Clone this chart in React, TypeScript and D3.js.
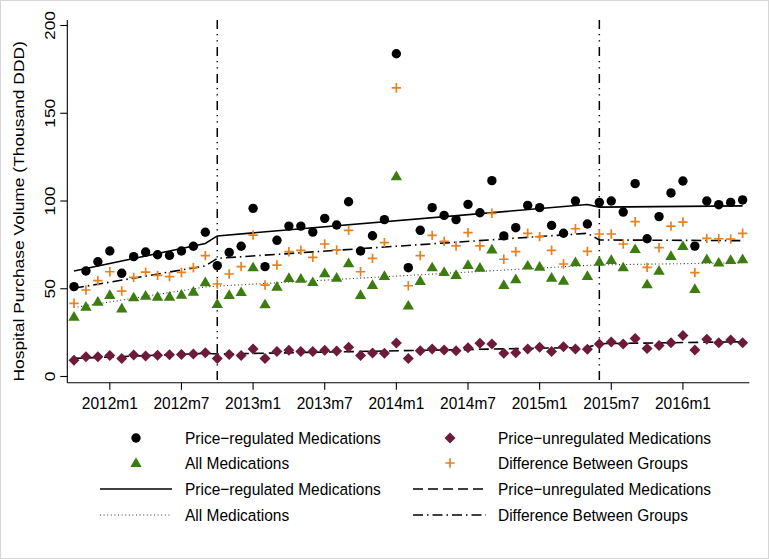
import React from "react";
import * as d3 from "d3";

// month index 0 = 2011m10 ... 56 = 2016m6
const regulated = [51.2, 60.1, 65.4, 71.5, 58.8, 68.3, 70.9, 69.4, 69.0, 71.5, 74.2, 82.2, 63.2, 70.7, 74.2, 95.8, 62.6, 77.6, 85.7, 85.7, 82.3, 90.1, 86.3, 99.6, 71.5, 80.2, 89.4, 183.9, 62.0, 83.3, 96.2, 91.8, 89.4, 98.1, 93.3, 111.6, 80.1, 84.8, 97.5, 96.2, 86.1, 81.6, 100.0, 86.9, 99.2, 100.0, 93.7, 109.9, 78.5, 91.1, 104.6, 111.4, 74.3, 100.0, 97.9, 99.2, 100.6];
const unregulated = [9.2, 11.3, 11.3, 11.9, 10.2, 12.3, 11.7, 12.1, 12.4, 12.6, 12.8, 13.6, 10.2, 12.6, 11.9, 15.7, 10.3, 14.2, 14.9, 14.2, 14.2, 14.9, 14.5, 16.6, 11.9, 13.4, 13.2, 19.1, 10.3, 14.7, 15.7, 15.1, 14.7, 16.4, 18.9, 18.5, 13.2, 13.6, 15.7, 16.6, 14.2, 17.0, 15.7, 15.5, 18.5, 19.7, 18.5, 21.7, 16.0, 17.6, 19.3, 23.3, 15.1, 21.2, 19.3, 20.8, 19.3];
const allMeds = [34.1, 39.8, 42.6, 46.4, 38.8, 45.1, 46.0, 45.5, 45.5, 46.6, 48.3, 53.7, 41.3, 46.4, 48.1, 62.2, 41.1, 51.2, 56.1, 55.7, 53.8, 58.8, 56.3, 64.5, 46.4, 52.1, 57.3, 114.1, 40.4, 54.4, 62.2, 59.5, 57.8, 63.5, 62.0, 72.4, 52.1, 55.4, 63.2, 62.6, 56.3, 54.6, 65.1, 57.3, 65.4, 66.4, 62.2, 72.6, 52.5, 60.3, 68.7, 74.4, 49.9, 66.8, 64.9, 66.4, 66.8];
const difference = [41.7, 49.3, 54.6, 59.7, 48.7, 56.5, 59.5, 57.6, 56.9, 59.3, 62.0, 68.9, 52.7, 58.4, 62.6, 80.6, 52.1, 63.5, 71.1, 71.9, 67.9, 75.5, 72.1, 83.3, 59.7, 67.3, 76.3, 164.5, 51.7, 68.9, 80.4, 77.0, 74.4, 82.0, 74.4, 93.0, 66.8, 71.1, 81.6, 79.7, 71.9, 64.1, 84.2, 71.3, 81.2, 81.2, 75.5, 88.2, 62.2, 73.4, 85.7, 88.0, 59.2, 78.7, 78.5, 78.3, 81.6];

// fitted (segmented) lines: [month index, value]
const regulatedFit: [number, number][] = [[0, 60.1], [11, 75.8], [12, 80.1], [43, 98.0], [44, 96.5], [56, 97.2]];
const unregulatedFit: [number, number][] = [[0, 10.3], [11, 13.2], [12, 12.8], [43, 16.6], [44, 18.7], [56, 19.8]];
const allMedsFit: [number, number][] = [[0, 39.3], [11, 51.0], [12, 51.5], [43, 63.3], [44, 63.6], [56, 64.8]];
const differenceFit: [number, number][] = [[0, 50.3], [11, 63.0], [12, 67.3], [43, 81.6], [44, 77.8], [56, 77.4]];

const xTickIdx = [3, 9, 15, 21, 27, 33, 39, 45, 51];
const xTickLabels = ["2012m1", "2012m7", "2013m1", "2013m7", "2014m1", "2014m7", "2015m1", "2015m7", "2016m1"];
const yTicks = [0, 50, 100, 150, 200];
const breakIdx = [12, 44];

const W = 769, H = 559;
const FONT = "'Liberation Sans', Arial, Helvetica, sans-serif";
const FS = 17.4;
const SQ = 0.89; // condensed glyphs
const C_BLACK = "#000000";
const C_GREEN = "#3d7c10";
const C_MAROON = "#6e1a3a";
const C_ORANGE = "#e8801e";

const x = d3.scaleLinear().domain([-0.56, 56.56]).range([67.3, 749.3]);
const y = d3.scaleLinear().domain([0, 200]).range([376.5, 25.5]);
const axisY = 382.7;
const plotTop = 20;

const lineGen = d3.line<[number, number]>().x(d => x(d[0])).y(d => y(d[1]));

const T = ({ x: tx, y: ty, rot = false, anchor = "start", children }: { x: number; y: number; rot?: boolean; anchor?: string; children: React.ReactNode }) => (
  <text
    transform={rot ? `translate(${tx},${ty}) rotate(-90) scale(1,${SQ})` : `translate(${tx},${ty}) scale(${SQ},1)`}
    textAnchor={anchor}
    fontSize={FS}
    fill="#000"
  >
    {children}
  </text>
);

const Dot = ({ cx, cy }: { cx: number; cy: number }) => <circle cx={cx} cy={cy} r={4.7} fill={C_BLACK} />;
const Tri = ({ cx, cy }: { cx: number; cy: number }) => {
  const s = 5.7;
  return <path d={`M${cx},${cy - s}L${cx + s},${cy + s * 0.7}L${cx - s},${cy + s * 0.7}Z`} fill={C_GREEN} />;
};
const Dia = ({ cx, cy }: { cx: number; cy: number }) => {
  const s = 5.5;
  return <path d={`M${cx},${cy - s}L${cx + s},${cy}L${cx},${cy + s}L${cx - s},${cy}Z`} fill={C_MAROON} />;
};
const Plus = ({ cx, cy }: { cx: number; cy: number }) => {
  const s = 4.7;
  return <path d={`M${cx - s},${cy}H${cx + s}M${cx},${cy - s}V${cy + s}`} stroke={C_ORANGE} strokeWidth={1.7} fill="none" />;
};

const styles = {
  solid: { stroke: "#000", strokeWidth: 1.6, dash: undefined as string | undefined },
  dash: { stroke: "#000", strokeWidth: 1.6, dash: "10,5" },
  dot: { stroke: "#333", strokeWidth: 1.1, dash: "1,2.6" },
  dashdot: { stroke: "#000", strokeWidth: 1.6, dash: "10,4,1.5,4" },
};

export default function App() {
  const legendRows = [438, 463, 489, 515];
  const lx = { marker: [136, 450], text: [185, 498], line: [[100, 172], [413, 486]] };
  return (
    <svg width={W} height={H} style={{ position: "absolute", left: 0, top: 0, background: "#fff" }} fontFamily={FONT}>
      <rect x={0.5} y={0.5} width={W - 1} height={H - 1} fill="#fff" stroke="#d6d6d6" />
      {/* vertical break lines */}
      {breakIdx.map(b => (
        <line key={b} x1={x(b)} x2={x(b)} y1={plotTop} y2={axisY} stroke="#000" strokeWidth={1.5} strokeDasharray="9,5,1.2,5,1.2,5.6" />
      ))}
      {/* axes */}
      <line x1={x.range()[0]} x2={x.range()[0]} y1={plotTop} y2={axisY} stroke="#000" strokeWidth={1.1} />
      <line x1={x.range()[0]} x2={x.range()[1]} y1={axisY} y2={axisY} stroke="#000" strokeWidth={1.1} />
      {yTicks.map(t => (
        <g key={t}>
          <line x1={x.range()[0] - 7} x2={x.range()[0]} y1={y(t)} y2={y(t)} stroke="#000" strokeWidth={1.1} />
          <T x={x.range()[0] - 12} y={y(t)} rot anchor="middle">{t}</T>
        </g>
      ))}
      {xTickIdx.map((t, i) => (
        <g key={t}>
          <line x1={x(t)} x2={x(t)} y1={axisY} y2={axisY + 7} stroke="#000" strokeWidth={1.1} />
          <T x={x(t)} y={axisY + 26} anchor="middle">{xTickLabels[i]}</T>
        </g>
      ))}
      <T x={24} y={(plotTop + axisY) / 2 + 10} rot anchor="middle">Hospital Purchase Volume (Thousand DDD)</T>

      {/* fitted lines */}
      {([[regulatedFit, styles.solid], [unregulatedFit, styles.dash], [allMedsFit, styles.dot], [differenceFit, styles.dashdot]] as const).map(([d, s], k) => (
        <path key={k} d={lineGen(d as [number, number][]) || ""} fill="none" stroke={s.stroke} strokeWidth={s.strokeWidth} strokeDasharray={s.dash} />
      ))}

      {/* markers */}
      {unregulated.map((v, i) => <Dia key={"u" + i} cx={x(i)} cy={y(v)} />)}
      {allMeds.map((v, i) => <Tri key={"a" + i} cx={x(i)} cy={y(v)} />)}
      {difference.map((v, i) => <Plus key={"d" + i} cx={x(i)} cy={y(v)} />)}
      {regulated.map((v, i) => <Dot key={"r" + i} cx={x(i)} cy={y(v)} />)}

      {/* legend */}
      <Dot cx={lx.marker[0]} cy={legendRows[0]} />
      <Dia cx={lx.marker[1]} cy={legendRows[0]} />
      <Tri cx={lx.marker[0]} cy={legendRows[1]} />
      <Plus cx={lx.marker[1]} cy={legendRows[1]} />
      <line x1={lx.line[0][0]} x2={lx.line[0][1]} y1={legendRows[2]} y2={legendRows[2]} stroke="#000" strokeWidth={styles.solid.strokeWidth} />
      <line x1={lx.line[1][0]} x2={lx.line[1][1]} y1={legendRows[2]} y2={legendRows[2]} stroke="#000" strokeWidth={styles.dash.strokeWidth} strokeDasharray={styles.dash.dash} />
      <line x1={lx.line[0][0]} x2={lx.line[0][1]} y1={legendRows[3]} y2={legendRows[3]} stroke={styles.dot.stroke} strokeWidth={styles.dot.strokeWidth} strokeDasharray={styles.dot.dash} />
      <line x1={lx.line[1][0]} x2={lx.line[1][1]} y1={legendRows[3]} y2={legendRows[3]} stroke="#000" strokeWidth={styles.dashdot.strokeWidth} strokeDasharray={styles.dashdot.dash} />
      {[["Price−regulated Medications", "Price−unregulated Medications"], ["All Medications", "Difference Between Groups"], ["Price−regulated Medications", "Price−unregulated Medications"], ["All Medications", "Difference Between Groups"]].map((row, r) => (
        <g key={r}>
          <T x={lx.text[0]} y={legendRows[r] + 6}>{row[0]}</T>
          <T x={lx.text[1]} y={legendRows[r] + 6}>{row[1]}</T>
        </g>
      ))}
    </svg>
  );
}
